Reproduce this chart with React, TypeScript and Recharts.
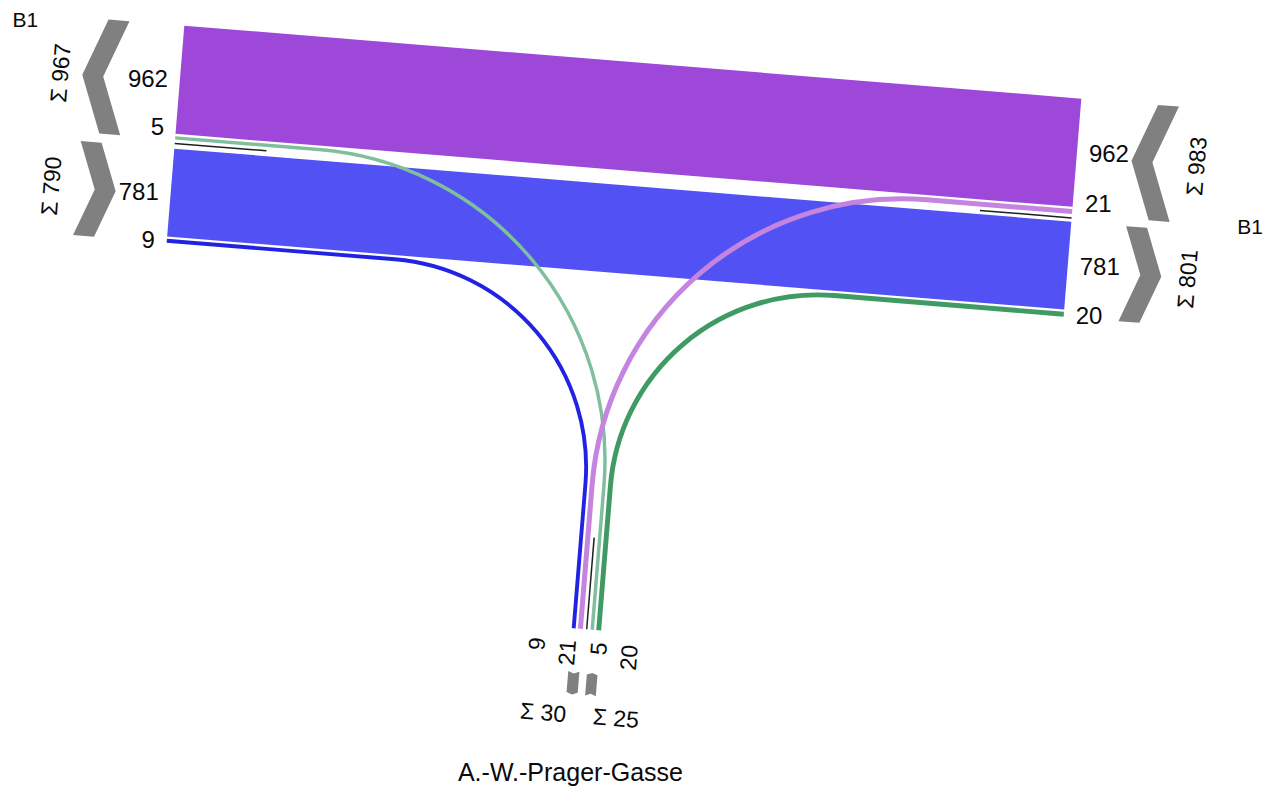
import React from 'react';
import { ComposedChart, Line, Scatter, XAxis, YAxis } from 'recharts';

// Knotenstromplan B1 / A.-W.-Prager-Gasse (Kfz)
const ARMS = ['W', 'E', 'S'];
const armLabels = ['B1', 'B1', 'A.-W.-Prager-Gasse'];
const flowFrom = ['E', 'W', 'W', 'E', 'S', 'S'];
const flowTo = ['W', 'E', 'S', 'S', 'W', 'E'];
const flowCounts = [962, 781, 9, 21, 5, 20];

// styles
const flowColors = ['#9d48d8', '#5252f4', '#2222e2', '#c484df', '#80bf9d', '#3f9a64'];
const CHEVRON = '#808080';
const DIVIDER = '#1e1e1e';
const TEXT = '#0a0a0a';
const FONT = '"Liberation Sans", Arial, sans-serif';

// layout
const W = 1268;
const H = 795;
const PX = 0.1128; // px per vehicle
const DEG = 4.65; // whole junction is tilted
const ANG = (DEG * Math.PI) / 180;
const COS = Math.cos(ANG);
const SIN = Math.sin(ANG);
const ORIGIN = { x: 184.3, y: 25.7 };
const ROAD_LEN = 900;
const SOUTH_END = 569;
const SOUTH_MID = 450;
const LINE_GAP = 2.3;
const DIV_GAP = 3.8;
const DIV_LEN = 92;
const TURN_CENTER = 424;
const CHEV_START: Record<string, number> = { W: 55, E: 55, S: 43 };
const CHEV_T = 21;
const NUM_SIZE = 24;
const SUM_SIZE = 23;
const NAME_POS: Record<string, [number, number, number]> = {
  W: [159, 7, 21],
  E: [178.5, 113.7, 21],
  S: [143.5, 445.4, 25],
};

const toScreen = (u: number, v: number) => ({
  x: ORIGIN.x + u * COS - v * SIN,
  y: ORIGIN.y + u * SIN + v * COS,
});

// w = distance outward from the arm end, l = lateral position across the lanes
const armPoint = (arm: string, w: number, l: number) => {
  if (arm === 'W') return toScreen(-w, l);
  if (arm === 'E') return toScreen(ROAD_LEN + w, l);
  return toScreen(l, SOUTH_END + w);
};

const flowWidth = (n: number) => (n * PX > 6 ? n * PX : 3 + n * PX * 0.85);

const idx = flowCounts.map((_, i) => i);
const other = (i: number, arm: string) => (flowFrom[i] === arm ? flowTo[i] : flowFrom[i]);
const byOther = (arm: string) => (a: number, b: number) =>
  ARMS.indexOf(other(a, arm)) - ARMS.indexOf(other(b, arm));
const outFlows = (arm: string) => idx.filter((i) => flowTo[i] === arm).sort(byOther(arm));
const inFlows = (arm: string) => idx.filter((i) => flowFrom[i] === arm).sort(byOther(arm));

const halfFlows: Record<string, number[][]> = {
  W: [outFlows('W'), inFlows('W')],
  E: [inFlows('E'), outFlows('E')],
  S: [outFlows('S'), inFlows('S')],
};
const halfOut: Record<string, boolean[]> = { W: [true, false], E: [false, true], S: [true, false] };

type Lane = { flow: number; center: number; width: number };
type Half = { lanes: Lane[]; start: number; end: number };

const stack = (flows: number[], start: number): Half => {
  let pos = start;
  const lanes = flows.map((f, k) => {
    if (k > 0) pos += LINE_GAP;
    const width = flowWidth(flowCounts[f]);
    const lane = { flow: f, center: pos + width / 2, width };
    pos += width;
    return lane;
  });
  return { lanes, start, end: pos };
};

const upperEnd = Math.max(stack(halfFlows.W[0], 0).end, stack(halfFlows.E[0], 0).end);
const layout: Record<string, { halves: Half[]; divider: number }> = {};
['W', 'E'].forEach((arm) => {
  const first = stack(halfFlows[arm][0], 0);
  const second = stack(halfFlows[arm][1], upperEnd + 2 * DIV_GAP);
  layout[arm] = { halves: [first, second], divider: first.end + DIV_GAP };
});
const southFirst = stack(halfFlows.S[0], 0).end;
layout.S = {
  halves: [
    stack(halfFlows.S[0], SOUTH_MID - DIV_GAP - southFirst),
    stack(halfFlows.S[1], SOUTH_MID + DIV_GAP),
  ],
  divider: SOUTH_MID,
};

const laneOf = (arm: string, flow: number) =>
  layout[arm].halves.flatMap((h) => h.lanes).find((l) => l.flow === flow) as Lane;

// straight run, circular turn, straight run
const roundCorner = (r: number) => (context: any) => {
  let pts: number[][] = [];
  return {
    areaStart() {},
    areaEnd() {},
    lineStart() {
      pts = [];
    },
    point(x: number, y: number) {
      pts.push([x, y]);
    },
    lineEnd() {
      const [a, b, c] = pts;
      context.moveTo(a[0], a[1]);
      context.arcTo(b[0], b[1], c[0], c[1], r);
      context.lineTo(c[0], c[1]);
    },
  };
};

const flowLines = idx.map((i) => {
  const a = flowFrom[i];
  const b = flowTo[i];
  const la = laneOf(a, i);
  const lb = laneOf(b, i);
  if (a !== 'S' && b !== 'S') {
    return { i, width: la.width, pts: [armPoint(a, 0, la.center), armPoint(b, 0, lb.center)], radius: 0 };
  }
  const mainLane = a === 'S' ? lb : la;
  const southLane = a === 'S' ? la : lb;
  const corner = toScreen(southLane.center, mainLane.center);
  return {
    i,
    width: la.width,
    pts: [armPoint(a, 0, la.center), corner, armPoint(b, 0, lb.center)],
    radius: TURN_CENTER - mainLane.center,
  };
});
const bands = flowLines.filter((f) => f.radius === 0);
const turns = flowLines.filter((f) => f.radius > 0).reverse();

const dividers = ARMS.map((arm) => [
  armPoint(arm, 0, layout[arm].divider),
  armPoint(arm, -DIV_LEN, layout[arm].divider),
]);

const chevron = (arm: string, l0: number, l1: number, out: boolean) => {
  const w0 = CHEV_START[arm];
  const bend = 0.19 * (l1 - l0);
  const t = CHEV_T;
  const mid = (l0 + l1) / 2;
  const local = out
    ? [[w0, l0], [w0 + t, l0], [w0 + t + bend, mid], [w0 + t, l1], [w0, l1], [w0 + bend, mid]]
    : [[w0 + bend, l0], [w0 + bend + t, l0], [w0 + t, mid], [w0 + bend + t, l1], [w0 + bend, l1], [w0, mid]];
  const c = armPoint(arm, w0 + (t + bend) / 2, mid);
  return {
    x: c.x,
    y: c.y,
    pts: local.map(([w, l]) => {
      const p = armPoint(arm, w, l);
      return [p.x - c.x, p.y - c.y];
    }),
  };
};

const chevrons = ARMS.flatMap((arm) =>
  layout[arm].halves.map((h, k) => chevron(arm, h.start, h.end, halfOut[arm][k]))
);

const spread = (cs: number[], d: number) => {
  const tight = cs.some((c, k) => k > 0 && c - cs[k - 1] < d);
  if (!tight) return cs;
  const m = cs.reduce((s, c) => s + c, 0) / cs.length;
  return cs.map((_, k) => m + (k - (cs.length - 1) / 2) * d);
};

type Label = { x: number; y: number; text: string; angle: number; anchor: string; size: number };
const labels: Label[] = [];
const addLabel = (p: { x: number; y: number }, text: string, angle: number, anchor: string, size: number) =>
  labels.push({ x: p.x, y: p.y, text, angle, anchor, size });

['W', 'E'].forEach((arm) => {
  const { halves, divider } = layout[arm];
  halves.forEach((h, k) => {
    h.lanes.forEach((lane) => {
      const lv = k === 0 ? Math.min(lane.center, divider - 16) : Math.max(lane.center, divider + 16);
      addLabel(armPoint(arm, 12, lv), String(flowCounts[lane.flow]), 0, arm === 'W' ? 'end' : 'start', NUM_SIZE);
    });
    const total = h.lanes.reduce((s, l) => s + flowCounts[l.flow], 0);
    addLabel(armPoint(arm, 120, (h.start + h.end) / 2), `Σ ${total}`, -90 + DEG, 'middle', SUM_SIZE);
  });
});

const southLanes = layout.S.halves.flatMap((h) => h.lanes);
spread(southLanes.map((l) => l.center), 31).forEach((c, k) =>
  addLabel(armPoint('S', 12, c - 2), String(flowCounts[southLanes[k].flow]), -90 + DEG, 'end', SUM_SIZE)
);
spread(layout.S.halves.map((h) => (h.start + h.end) / 2), 73).forEach((c, k) => {
  const total = layout.S.halves[k].lanes.reduce((s, l) => s + flowCounts[l.flow], 0);
  addLabel(armPoint('S', 86, c), `Σ ${total}`, DEG, 'middle', SUM_SIZE);
});

ARMS.forEach((arm, k) => {
  const [w, l, size] = NAME_POS[arm];
  addLabel(armPoint(arm, w, l), armLabels[k], 0, 'middle', size);
});

const ChevronMark = (props: any) => {
  const { cx, cy, payload } = props;
  const points = payload.pts.map((p: number[]) => `${cx + p[0]},${cy + p[1]}`).join(' ');
  return <polygon points={points} fill={CHEVRON} />;
};

const TextMark = (props: any) => {
  const { cx, cy, payload } = props;
  return (
    <text
      x={cx}
      y={cy}
      dy="0.36em"
      textAnchor={payload.anchor}
      fontSize={payload.size}
      fontFamily={FONT}
      fill={TEXT}
      transform={payload.angle ? `rotate(${payload.angle} ${cx} ${cy})` : undefined}
    >
      {payload.text}
    </text>
  );
};

export default function App() {
  return (
    <div style={{ position: 'absolute', left: 0, top: 0, width: W, height: H, background: '#fff' }}>
      <ComposedChart width={W} height={H} margin={{ top: 0, right: 0, bottom: 0, left: 0 }}>
        <XAxis type="number" dataKey="x" domain={[0, W]} allowDataOverflow hide />
        <YAxis type="number" dataKey="y" domain={[0, H]} allowDataOverflow reversed hide />
        {bands.map((f) => (
          <Line
            key={`band-${f.i}`}
            data={f.pts}
            dataKey="y"
            type="linear"
            stroke={flowColors[f.i]}
            strokeWidth={f.width}
            strokeLinecap="butt"
            dot={false}
            activeDot={false}
            legendType="none"
            isAnimationActive={false}
          />
        ))}
        {dividers.map((pts, k) => (
          <Line
            key={`div-${k}`}
            data={pts}
            dataKey="y"
            type="linear"
            stroke={DIVIDER}
            strokeWidth={1.5}
            dot={false}
            activeDot={false}
            legendType="none"
            isAnimationActive={false}
          />
        ))}
        {turns.map((f) => (
          <Line
            key={`turn-${f.i}`}
            data={f.pts}
            dataKey="y"
            type={roundCorner(f.radius) as any}
            stroke={flowColors[f.i]}
            strokeWidth={f.width}
            strokeLinecap="butt"
            dot={false}
            activeDot={false}
            legendType="none"
            isAnimationActive={false}
          />
        ))}
        <Scatter data={chevrons} shape={ChevronMark} isAnimationActive={false} legendType="none" />
        <Scatter data={labels} shape={TextMark} isAnimationActive={false} legendType="none" />
      </ComposedChart>
    </div>
  );
}
